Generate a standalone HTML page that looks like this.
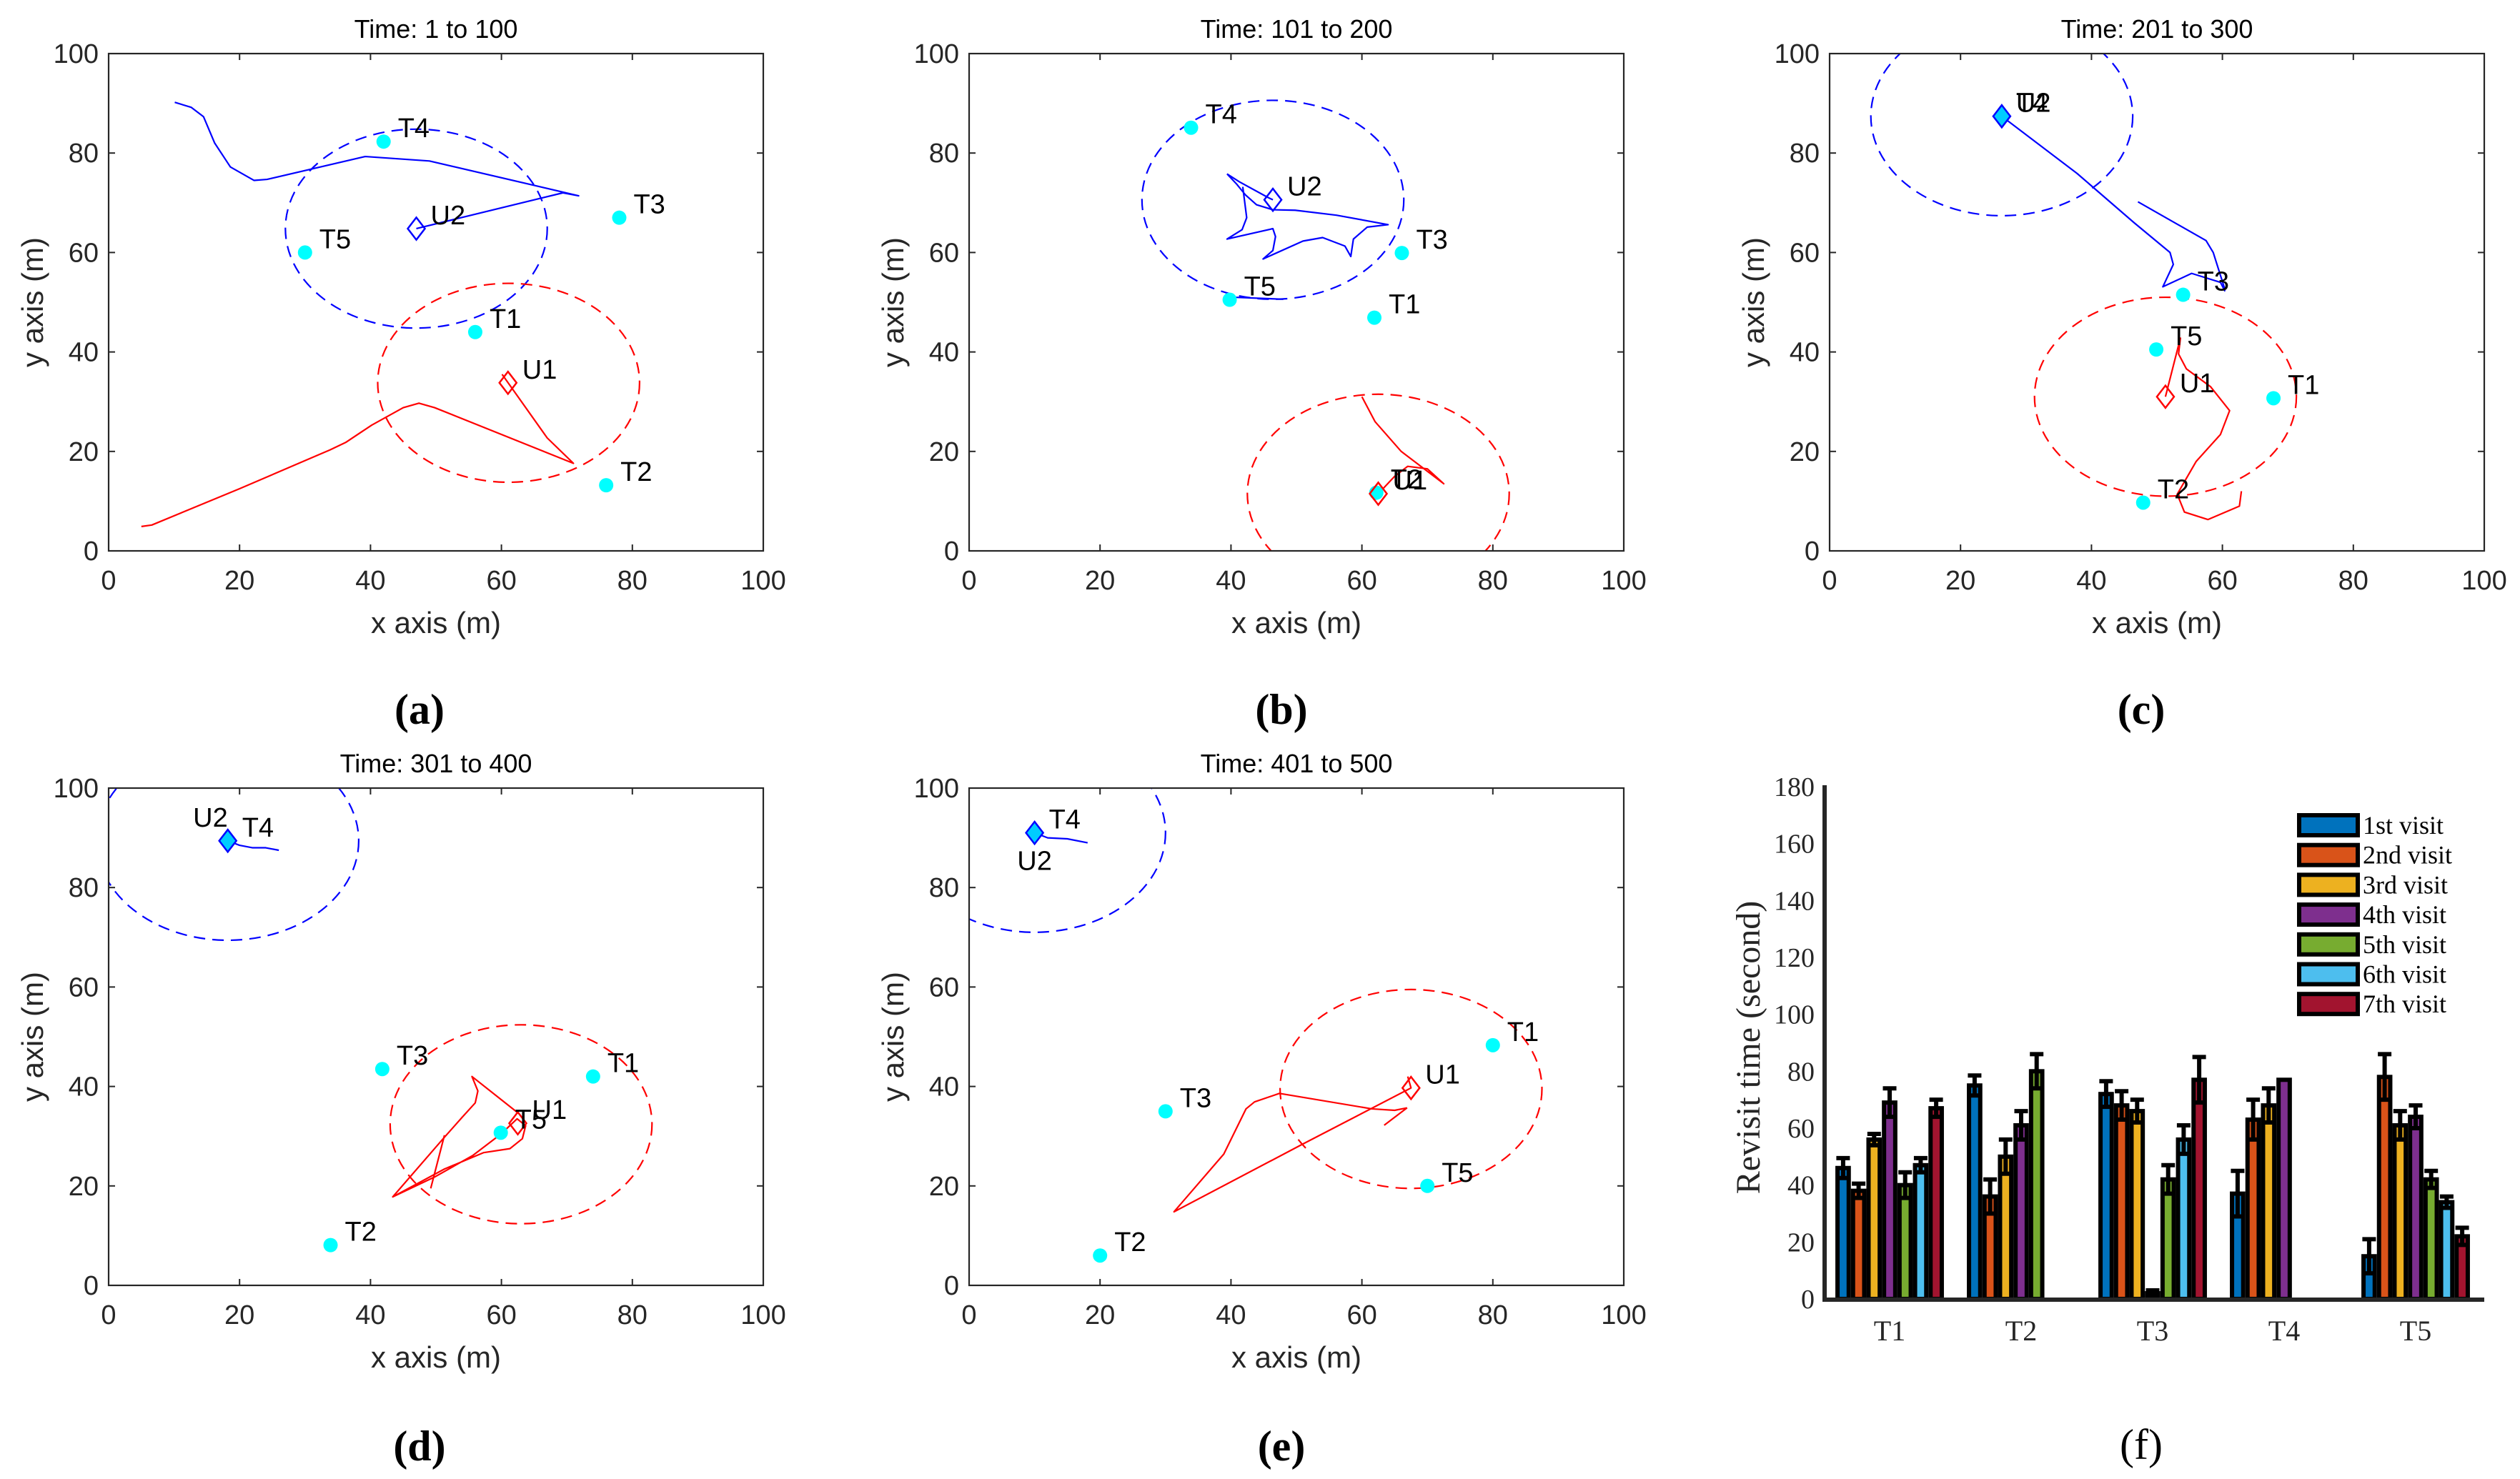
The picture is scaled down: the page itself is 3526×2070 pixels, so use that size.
<!DOCTYPE html>
<html><head><meta charset="utf-8">
<style>
html,body{margin:0;padding:0;background:#fff;}
svg{display:block;}
</style></head>
<body>
<svg id="fig" xmlns="http://www.w3.org/2000/svg" width="3526" height="2070" viewBox="0 0 3526 2070"></svg>
<script>
// ===== Trajectory panel data (data coords, metres) =====
const panelTitles = ["Time: 1 to 100","Time: 101 to 200","Time: 201 to 300","Time: 301 to 400","Time: 401 to 500"];
const panelCaptions = ["(a)","(b)","(c)","(d)","(e)","(f)"];
const axisTicks = [0,20,40,60,80,100];
const targetNames = ["T1","T2","T3","T4","T5"];
const targetsA = [[56,44],[76,13.2],[78,67],[42,82.3],[30,60]];
const targetsB = [[61.9,46.9],[62.2,11.7],[66.1,59.9],[33.9,85.1],[39.8,50.5]];
const targetsC = [[67.8,30.7],[47.9,9.7],[54,51.5],[26.3,87.4],[49.9,40.5]];
const targetsD = [[74,42],[33.9,8.1],[41.8,43.5],[18.2,89.4],[59.9,30.7]];
const targetsE = [[80,48.3],[20,6],[30,35],[10,91],[70,20]];
const uavU1 = [[61,33.8],[62.5,11.5],[51.3,31],[62.5,32.6],[67.5,39.7]];
const uavU2 = [[47,64.8],[46.4,70.6],[26.3,87.4],[18.2,89.4],[10,91]];
const circleU1 = [[61.1,33.8],[62.5,11.5],[51.3,31],[63,32.4],[67.5,39.5]];
const circleU2 = [[47,64.8],[46.4,70.6],[26.3,87.4],[18.2,89.4],[10,91]];
const sensorRadius = 20;
const bluePathsA = [[[10.1,90.2],[12.6,89.2],[14.5,87.3],[16.2,82],[18.6,77.2],[22.2,74.5],[24.2,74.7],[39.2,79.3],[49,78.4],[65,73.5],[71.8,71.4],[69.4,72],[47,64.8]]];
const redPathsA = [[[5,4.9],[6.6,5.2],[20,12.5],[33.8,20.3],[36.2,21.8],[40.2,25.3],[45,28.8],[47.4,29.7],[49.8,28.8],[71,17.6],[67,22.7],[60.1,35.5]]];
const bluePathsB = [
 [[39.4,75.8],[41.3,74.2],[45.6,71.1],[46.4,70.6]],
 [[39.4,75.8],[40.9,73.7],[42.2,71.6],[43.9,69.6],[46.4,68.6],[49.8,68.5],[56.1,67.5],[64,65.6],[60.8,65.1],[58.7,62.7],[58.3,59.2],[57.4,61.3],[54,63],[51,62.3],[44.9,58.7],[46.4,60.4],[46.8,63.2],[46.4,64.8],[39.4,62.7],[41.7,64.6],[42.4,67],[41.8,73.2]],
 [[40.5,51],[48,50.6]]];
const redPathsB = [[[60,31],[62,26],[66,20],[70,16],[72.5,13.5],[70,16.5],[67,17],[65,15],[62.5,11.5]]];
const bluePathsC = [
 [[26.3,87.4],[37.8,75.9],[46.5,66],[52,60],[52.5,57.6],[50.9,53.1],[55.3,55.8],[59.7,54],[60.4,52.2]],
 [[47.1,70.2],[57.5,62.4],[58.6,60],[60.4,52.5]]];
const redPathsC = [
 [[51.3,31],[53.6,42.9]],
 [[53.6,42.9],[53.3,39.6],[54.5,36.6],[58.2,33],[61.1,28.2],[59.7,23.4],[56,18],[53.1,11.4],[54.2,7.8],[57.8,6.3],[62.6,9],[62.9,12]]];
const bluePathsD = [[[18.2,89.4],[20,88.5],[22,88],[24,88],[26,87.5]]];
const redPathsD = [
 [[62.7,34.5],[55.5,42],[56.4,39.1],[56,36.7],[54,33.8],[51.1,29.5],[43.4,17.8],[49.8,21.8],[55.6,26.1],[59.9,30.4],[62.4,33.5],[63.7,32.1],[63.2,29.5],[61.3,27.5],[57.3,26.7],[51.3,23.4],[43.4,17.8]],
 [[49.2,19.5],[51.3,30.2]]];
const bluePathsE = [[[10,91],[12,90],[15,89.8],[18.1,89]]];
const redPathsE = [
 [[63.4,32.2],[66.9,35.7]],
 [[66.9,35.7],[65,35.2],[61.5,35.5],[47.4,38.6],[43.6,36.9],[42.3,35.5],[38.9,26.4],[31.3,14.8],[50.8,28.3],[67.5,39.7],[67,42]]];

// ===== Bar chart (f) data =====
const barCategories = ["T1","T2","T3","T4","T5"];
const visitNames = ["1st visit","2nd visit","3rd visit","4th visit","5th visit","6th visit","7th visit"];
const visit1 = [46,75,72,37,15];
const visit2 = [38,36,68,63,78];
const visit3 = [56,50,66,68,61];
const visit4 = [69,61,2,77,64];
const visit5 = [40,80,42,null,42];
const visit6 = [47,null,56,null,34];
const visit7 = [67,null,77,null,22];
const err1 = [3.5,3.5,4.5,8,6];
const err2 = [2.5,6,5,7,8];
const err3 = [2,6,4,6,5];
const err4 = [5,5,1,0,4];
const err5 = [4.5,6,5,0,3];
const err6 = [2.5,0,5,0,2];
const err7 = [3,0,8,0,3];
const barYTicks = [0,20,40,60,80,100,120,140,160,180];

const NS="http://www.w3.org/2000/svg";
const svg=document.getElementById('fig');
function mk(tag,attrs,parent,text){const e=document.createElementNS(NS,tag);for(const k in attrs)e.setAttribute(k,attrs[k]);if(text!==undefined)e.textContent=text;(parent||svg).appendChild(e);return e;}

const AX="#262626";
const SANS='"Liberation Sans", Arial, sans-serif';
const SERIF='"Liberation Serif", "Times New Roman", serif';
const panelBoxes=[[152,75],[1356,75],[2560,75],[152,1103],[1356,1103]];
const PW=916, PH=696;
const allTargets=[targetsA,targetsB,targetsC,targetsD,targetsE];
const allBlue=[bluePathsA,bluePathsB,bluePathsC,bluePathsD,bluePathsE];
const allRed=[redPathsA,redPathsB,redPathsC,redPathsD,redPathsE];
const captionCentres=[[587,993],[1793,993],[2996,993],[587,2024],[1793,2024],[2996,2022]];
const letters=['a','b','c','d','e'];

for(let p=0;p<5;p++){
  const [L,T]=panelBoxes[p];
  const sx=v=>L+v/100*PW;
  const sy=v=>T+PH-v/100*PH;
  const g=mk('g',{});
  
  
  const cid='clip'+p;
  const cp=mk('clipPath',{id:cid},g);
  mk('rect',{x:L,y:T,width:PW,height:PH},cp);
  const tt=mk('text',{x:L+PW/2,y:T-22,'text-anchor':'middle','font-family':SANS,'font-size':36,fill:'#000'},g,panelTitles[p]);
  
  
  const pg=mk('g',{'clip-path':'url(#'+cid+')'},g);
  const c2=mk('ellipse',{cx:sx(circleU2[p][0]),cy:sy(circleU2[p][1]),rx:sensorRadius/100*PW,ry:sensorRadius/100*PH,fill:'none',stroke:'#0000ff','stroke-width':2.2,'stroke-dasharray':'16 10'},pg);
  
  
  const c1=mk('ellipse',{cx:sx(circleU1[p][0]),cy:sy(circleU1[p][1]),rx:sensorRadius/100*PW,ry:sensorRadius/100*PH,fill:'none',stroke:'#ff0000','stroke-width':2.2,'stroke-dasharray':'16 10'},pg);
  
  
  allBlue[p].forEach(path=>{
    const pl=mk('polyline',{points:path.map(q=>sx(q[0])+','+sy(q[1])).join(' '),fill:'none',stroke:'#0000ff','stroke-width':2.2,'stroke-linejoin':'round'},pg);
    
    
  });
  allRed[p].forEach(path=>{
    const pl=mk('polyline',{points:path.map(q=>sx(q[0])+','+sy(q[1])).join(' '),fill:'none',stroke:'#ff0000','stroke-width':2.2,'stroke-linejoin':'round'},pg);
    
    
  });
  allTargets[p].forEach((q,i)=>{
    const c=mk('circle',{cx:sx(q[0]),cy:sy(q[1]),r:10,fill:'#00ffff'},pg);
    
    
    const t=mk('text',{x:sx(q[0])+20,y:sy(q[1])-6,'font-family':SANS,'font-size':38,fill:'#000'},g,targetNames[i]);
    
    
  });
  const d=12;
  const u1=uavU1[p], u2=uavU2[p];
  const m1=mk('polygon',{points:[[0,-d*1.3],[d,0],[0,d*1.3],[-d,0]].map(v=>(sx(u1[0])+v[0])+','+(sy(u1[1])+v[1])).join(' '),fill:'none',stroke:'#ff0000','stroke-width':2.5},pg);
  
  
  const m2=mk('polygon',{points:[[0,-d*1.3],[d,0],[0,d*1.3],[-d,0]].map(v=>(sx(u2[0])+v[0])+','+(sy(u2[1])+v[1])).join(' '),fill:(p>=2?'#00ccff':'none'),stroke:'#0000ff','stroke-width':2.5},pg);
  
  
  let u2lx=sx(u2[0])+20, u2ly=sy(u2[1])-6, anchor='start';
  if(p===3){u2lx=sx(u2[0]);u2ly=sy(u2[1])-20;anchor='end';}
  if(p===4){u2lx=sx(u2[0]);u2ly=sy(u2[1])+52;anchor='middle';}
  const l1=mk('text',{x:sx(u1[0])+20,y:sy(u1[1])-6,'font-family':SANS,'font-size':38,fill:'#000'},g,'U1');
  
  
  const l2=mk('text',{x:u2lx,y:u2ly,'text-anchor':anchor,'font-family':SANS,'font-size':38,fill:'#000'},g,'U2');
  
  
  const box=mk('rect',{x:L,y:T,width:PW,height:PH,fill:'none',stroke:AX,'stroke-width':2.2},g);
  
  
  axisTicks.forEach(v=>{
    const X=sx(v),Y=sy(v);
    mk('line',{x1:X,y1:T+PH,x2:X,y2:T+PH-9,stroke:AX,'stroke-width':2},g);
    mk('line',{x1:X,y1:T,x2:X,y2:T+9,stroke:AX,'stroke-width':2},g);
    mk('line',{x1:L,y1:Y,x2:L+9,y2:Y,stroke:AX,'stroke-width':2},g);
    mk('line',{x1:L+PW,y1:Y,x2:L+PW-9,y2:Y,stroke:AX,'stroke-width':2},g);
    const xt=mk('text',{x:X,y:T+PH+54,'text-anchor':'middle','font-family':SANS,'font-size':38,fill:AX},g,String(v));
    
    
    const yt=mk('text',{x:L-14,y:Y+13,'text-anchor':'end','font-family':SANS,'font-size':38,fill:AX},g,String(v));
    
    
  });
  const xl=mk('text',{x:L+PW/2,y:T+PH+115,'text-anchor':'middle','font-family':SANS,'font-size':42,fill:AX},g,'x axis (m)');
  
  
  const yl=mk('text',{x:0,y:0,'text-anchor':'middle','font-family':SANS,'font-size':42,fill:AX,transform:'translate('+(L-92)+','+(T+PH/2)+') rotate(-90)'},g,'y axis (m)');
  
  
}
captionCentres.forEach((c,i)=>{
  const t=mk('text',{x:c[0],y:c[1]+20,'text-anchor':'middle','font-family':SERIF,'font-size':60,'font-weight':(i<5?'bold':'normal'),fill:'#000'},svg,panelCaptions[i]);
  
  
});

// ===== Bar chart (f) =====
(function(){
  const AXL=2553, AXR=3476, Y0=1818, Ytop=1101, YMAX=180;
  const yv=v=>Y0-v/YMAX*(Y0-Ytop);
  const groupCentre0=2644, groupStep=184, barStep=21.7, barW=21.7;
  const colors=['#0072BD','#D95319','#EDB120','#7E2F8E','#77AC30','#4DBEEE','#A2142F'];
  const series=[visit1,visit2,visit3,visit4,visit5,visit6,visit7];
  const errs=[err1,err2,err3,err4,err5,err6,err7];
  const g=mk('g',{});
  
  
  barCategories.forEach((cat,ci)=>{
    const cx=groupCentre0+ci*groupStep;
    const start=cx-7*barStep/2;
    series.forEach((s,si)=>{
      const v=s[ci]; if(v===null) return;
      const x=start+si*barStep;
      const r=mk('rect',{x:x+3,y:yv(v),width:barW-6,height:Y0-yv(v),fill:colors[si],stroke:'#000','stroke-width':6},g);
      
      
    });
    series.forEach((s,si)=>{
      const v=s[ci]; if(v===null) return;
      const e=errs[si][ci]; if(!e) return;
      const xm=start+si*barStep+barW/2;
      const eg=mk('g',{},g);
      
      
      mk('line',{x1:xm,y1:yv(v-e),x2:xm,y2:yv(v+e),stroke:'#000','stroke-width':6},eg);
      mk('line',{x1:xm-9.5,y1:yv(v+e),x2:xm+9.5,y2:yv(v+e),stroke:'#000','stroke-width':6},eg);
      mk('line',{x1:xm-9.5,y1:yv(v-e),x2:xm+9.5,y2:yv(v-e),stroke:'#000','stroke-width':6},eg);
    });
    const t=mk('text',{x:cx,y:1876,'text-anchor':'middle','font-family':SERIF,'font-size':40,fill:AX},g,cat);
    
    
  });
  const ya=mk('line',{x1:AXL,y1:Ytop-2,x2:AXL,y2:Y0+3,stroke:AX,'stroke-width':6},g);
  
  
  const xa=mk('line',{x1:AXL-3,y1:Y0+1,x2:AXR,y2:Y0+1,stroke:AX,'stroke-width':6},g);
  
  
  barYTicks.forEach(v=>{
    const t=mk('text',{x:AXL-14,y:yv(v)+13,'text-anchor':'end','font-family':SERIF,'font-size':38,fill:AX},g,String(v));
    
    
  });
  const yl=mk('text',{x:0,y:0,'text-anchor':'middle','font-family':SERIF,'font-size':48,fill:AX,transform:'translate(2462,1466) rotate(-90)'},g,'Revisit time (second)');
  
  
  const lg=mk('g',{},g);
  
  
  visitNames.forEach((nm,i)=>{
    const y=1155+i*41.7;
    const e=mk('g',{},lg);
    
    
    mk('rect',{x:3217,y:y-14,width:82,height:28,fill:colors[i],stroke:'#000','stroke-width':6},e);
    mk('text',{x:3306,y:y+12,'font-family':SERIF,'font-size':36,fill:'#000'},e,nm);
  });
})();
</script>
</body></html>
